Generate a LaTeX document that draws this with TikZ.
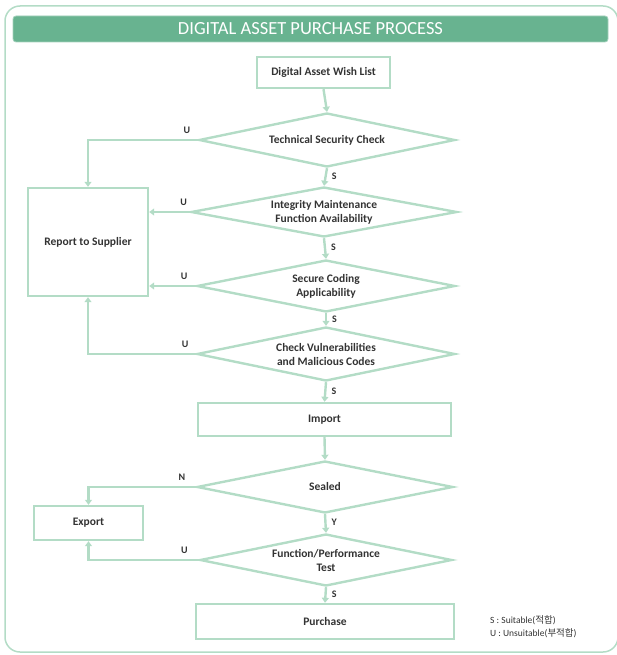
\documentclass[tikz,border=0pt]{standalone}
\usepackage{fontspec}
\setmainfont{Carlito}
\newfontfamily\kr{Noto Sans CJK KR}
\usetikzlibrary{shapes.geometric,arrows.meta}
\definecolor{lgreen}{HTML}{B3DCC6}
\definecolor{hgreen}{HTML}{68B390}
\definecolor{tgray}{HTML}{333333}
\tikzset{
  ln/.style={draw=lgreen, line width=2.4pt},
  arr/.style={ln, -{Triangle[width=7pt,length=5pt]}},
  boxn/.style={ln, rectangle, inner sep=0pt, font=\bfseries\fontsize{11.5}{13}\selectfont, text=tgray, align=center},
  dia/.style={ln, diamond, aspect=6, inner sep=0pt, font=\bfseries\fontsize{11.5}{14}\selectfont, text=tgray, align=center},
  lbl/.style={font=\bfseries\fontsize{10}{12}\selectfont, text=tgray, inner sep=0pt}
}
\begin{document}
\begin{tikzpicture}[x=1pt,y=-1pt]
\useasboundingbox (0,0) rectangle (616,655);
% frame
\draw[draw=lgreen, line width=1.5pt, rounded corners=15pt] (5,6) rectangle (618,652);
% header
\node[fill=hgreen, draw=hgreen!60, line width=0.8pt, rounded corners=3pt, minimum width=595pt, minimum height=26pt, inner sep=0pt, text=white, font=\fontsize{18.5}{20}\selectfont] (title) at (310.5,29) {DIGITAL ASSET PURCHASE PROCESS};
% nodes
\node[boxn, minimum width=133pt, minimum height=31pt] (wish) at (323.5,72.5) {Digital Asset Wish List};
\node[dia, minimum width=256pt, minimum height=54pt] (d1) at (327,140) {Technical Security Check};
\node[dia, minimum width=266pt, minimum height=50pt] (d2) at (324,212) {Integrity Maintenance\\Function Availability};
\node[dia, minimum width=258pt, minimum height=52pt] (d3) at (326,286) {Secure Coding\\Applicability};
\node[dia, minimum width=258pt, minimum height=54pt] (d4) at (326,354) {Check Vulnerabilities\\and Malicious Codes};
\node[boxn, minimum width=253pt, minimum height=33pt] (imp) at (324.5,419.5) {Import};
\node[dia, minimum width=256pt, minimum height=52pt] (d5) at (325,487) {Sealed};
\node[dia, minimum width=252pt, minimum height=52pt] (d6) at (326,560) {Function/Performance\\Test};
\node[boxn, minimum width=258pt, minimum height=35pt] (pur) at (325,621.5) {Purchase};
\node[boxn, minimum width=120pt, minimum height=108pt] (rep) at (88,242) {Report to Supplier};
\node[boxn, minimum width=109pt, minimum height=34pt] (exp) at (88.5,523) {Export};
% main flow
\draw[arr] (wish.south) -- (d1.north);
\draw[arr] (d1.south) -- node[lbl, right=5pt, pos=0.45] {S} (d2.north);
\draw[arr] (d2.south) -- node[lbl, right=5pt, pos=0.45] {S} (d3.north);
\draw[arr] (d3.south) -- node[lbl, right=5pt, pos=0.45] {S} (d4.north);
\draw[arr] (d4.south) -- node[lbl, right=5pt, pos=0.45] {S} (imp.north);
\draw[arr] (imp.south) -- (d5.north);
\draw[arr] (d5.south) -- node[lbl, right=5pt, pos=0.45] {Y} (d6.north);
\draw[arr] (d6.south) -- node[lbl, right=5pt, pos=0.45] {S} (pur.north);
% unsuitable branches
\draw[arr] (d1.west) -- node[lbl, above=5pt, pos=0.1] {U} (d1.west -| rep.north) -- (rep.north);
\draw[arr] (d2.west) -- node[lbl, above=5pt, pos=0.15] {U} (d2.west -| rep.east);
\draw[arr] (d3.west) -- node[lbl, above=5pt, pos=0.25] {U} (d3.west -| rep.east);
\draw[arr] (d4.west) -- node[lbl, above=5pt, pos=0.1] {U} (d4.west -| rep.south) -- (rep.south);
\draw[arr] (d5.west) -- node[lbl, above=5pt, pos=0.13] {N} (d5.west -| exp.north) -- (exp.north);
\draw[arr] (d6.west) -- node[lbl, above=5pt, pos=0.13] {U} (d6.west -| exp.south) -- (exp.south);
% legend
\node[anchor=west, inner sep=0pt, text=tgray, font=\fontsize{9.5}{13}\selectfont, align=left] (leg) at (490,627) {S : Suitable({\kr 적합})\\U : Unsuitable({\kr 부적합})};
\end{tikzpicture}
\end{document}
